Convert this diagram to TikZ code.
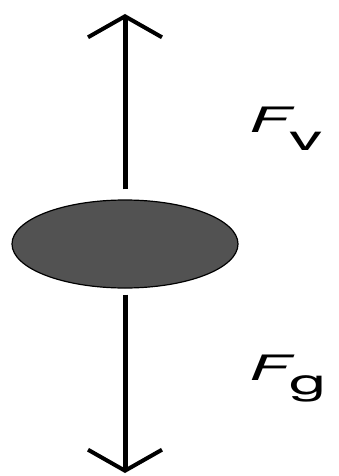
\documentclass[tikz,border=0pt]{standalone}
\usepackage{fontspec}
\setmainfont{TeX Gyre Heros}
\usepackage{graphicx}
\usepackage{tikz}
\usetikzlibrary{arrows.meta,shapes.geometric}

\begin{document}
\begin{tikzpicture}[
 x=1pt,y=-1pt,
 body/.style={draw,ellipse,line width=1.2pt,fill=black!68,minimum width=226pt,minimum height=88pt,inner sep=0pt},
 force/.style={line width=5pt,-{Straight Barb[length=21pt,width=74pt,line width=4pt]}},
 lbl/.style={anchor=base west,inner sep=0pt,font=\fontsize{35}{40}\selectfont}
]
\useasboundingbox (0,0) rectangle (339,476);
\node[body] (mass) at (125,244) {};
\coordinate (top) at (125,14);
\coordinate (bot) at (125,473);
\draw[force,shorten <=10pt] (mass.north) -- (top);
\draw[force,shorten <=6pt] (mass.south) -- (bot);
\node[lbl] (lblv) at (249,132) {\scalebox{1.9}[1]{\itshape F}\raisebox{-18pt}{\scalebox{1.9}[1]{v}}};
\node[lbl] (lblg) at (249,380) {\scalebox{1.9}[1]{\itshape F}\raisebox{-14pt}{\scalebox{1.9}[1]{g}}};
\end{tikzpicture}
\end{document}
